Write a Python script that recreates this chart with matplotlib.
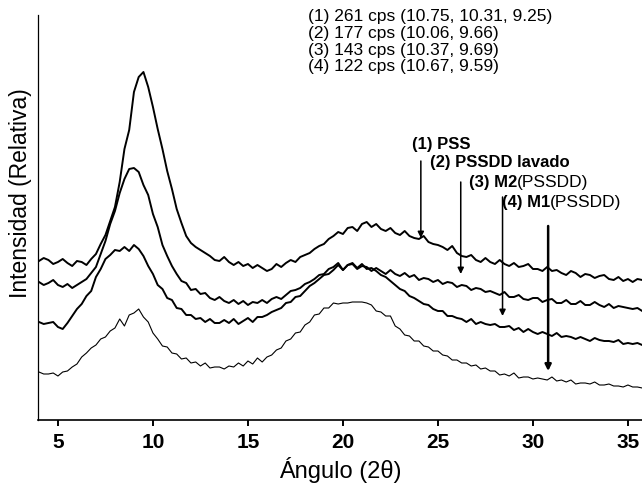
import numpy as np
import matplotlib
matplotlib.use("Agg")
import matplotlib.pyplot as plt

plt.rcParams['font.family'] = ['Liberation Sans', 'DejaVu Sans']

# ---------------- data ----------------
two_theta = np.arange(4.0, 35.76, 0.25)

pss = [159, 162, 160, 156, 158, 161, 157, 154, 159, 158, 155, 161,
       166, 176, 185, 199, 213, 238, 271, 290, 328, 343, 348, 333,
       313, 291, 271, 249, 231, 211, 197, 184, 177, 173, 170, 167,
       164, 160, 159, 163, 158, 155, 158, 154, 156, 152, 155, 152,
       149, 151, 156, 153, 157, 160, 158, 163, 165, 167, 171, 174,
       176, 181, 184, 188, 186, 192, 193, 189, 196, 198, 193, 196,
       191, 189, 192, 187, 185, 189, 184, 182, 181, 184, 178, 176,
       175, 173, 170, 174, 167, 164, 163, 165, 160, 158, 162, 158,
       156, 160, 156, 154, 157, 153, 154, 156, 151, 151, 149, 153,
       149, 150, 147, 145, 149, 147, 143, 146, 145, 142, 144, 145,
       141, 140, 143, 139, 141, 138, 141, 140]

pssdd_lavado = [138, 135, 137, 140, 135, 133, 136, 132, 135, 138, 141, 147,
                153, 166, 179, 196, 209, 227, 241, 251, 252, 248, 235, 225,
                206, 193, 175, 164, 154, 146, 139, 137, 130, 131, 126, 127,
                122, 120, 123, 119, 117, 120, 116, 119, 115, 118, 117, 120,
                117, 121, 123, 121, 125, 129, 130, 132, 136, 138, 141, 145,
                146, 151, 153, 157, 150, 155, 156, 151, 154, 153, 149, 152,
                149, 146, 150, 146, 144, 147, 143, 145, 140, 142, 141, 138,
                140, 136, 138, 137, 133, 135, 134, 130, 132, 131, 128, 129,
                127, 125, 128, 123, 123, 125, 121, 120, 122, 122, 118, 120,
                121, 117, 117, 120, 116, 116, 119, 115, 115, 118, 115, 113,
                116, 112, 114, 113, 112, 111, 112, 109]

m2_pssdd = [98, 96, 97, 98, 93, 91, 97, 104, 111, 116, 124, 129,
            143, 151, 161, 165, 170, 169, 173, 169, 175, 171, 164, 154,
            146, 135, 131, 122, 120, 112, 111, 105, 105, 101, 102, 98,
            101, 97, 97, 100, 97, 101, 96, 99, 102, 98, 103, 103,
            105, 108, 110, 112, 117, 118, 123, 124, 129, 134, 137, 141,
            145, 146, 150, 155, 150, 155, 157, 152, 156, 151, 152, 149,
            145, 143, 139, 135, 131, 129, 124, 122, 119, 116, 115, 111,
            109, 109, 104, 104, 102, 101, 98, 101, 96, 98, 96, 95,
            96, 93, 93, 94, 90, 92, 88, 91, 88, 86, 88, 86,
            84, 87, 83, 84, 83, 81, 83, 81, 79, 82, 80, 79,
            79, 78, 80, 76, 77, 76, 77, 75]

m1_pssdd = [48, 46, 46, 47, 44, 48, 49, 53, 56, 63, 67, 72,
            75, 81, 83, 89, 92, 101, 94, 105, 107, 111, 103, 98,
            87, 81, 74, 73, 67, 66, 61, 62, 57, 58, 54, 57,
            52, 53, 53, 51, 54, 53, 57, 54, 59, 56, 62, 58,
            63, 65, 70, 72, 79, 81, 87, 88, 95, 98, 105, 106,
            112, 112, 117, 116, 117, 117, 118, 118, 118, 117, 115, 109,
            108, 104, 104, 94, 91, 85, 84, 79, 79, 74, 73, 69,
            69, 65, 64, 60, 60, 57, 57, 54, 55, 51, 52, 49,
            49, 45, 46, 44, 47, 42, 43, 43, 41, 42, 41, 40,
            43, 39, 40, 38, 40, 36, 37, 37, 36, 38, 35, 35,
            36, 34, 34, 33, 35, 33, 33, 32]

series = [pss, pssdd_lavado, m2_pssdd, m1_pssdd]
line_widths = [1.4, 1.4, 1.4, 0.8]

info_lines = ["(1) 261 cps (10.75, 10.31, 9.25)",
              "(2) 177 cps (10.06, 9.66)",
              "(3) 143 cps (10.37, 9.69)",
              "(4) 122 cps (10.67, 9.59)"]

arrow_labels_bold = ["(1) PSS", "(2) PSSDD lavado", "(3) M2", "(4) M1"]
arrow_labels_rest = ["", "", "(PSSDD)", "(PSSDD)"]
arrow_x = [24.1, 26.2, 28.4, 30.8]
arrow_top = [259, 238, 223, 194]
arrow_tip = [182, 146, 104, 49]
xticks = [5, 10, 15, 20, 25, 30, 35]

# ---------------- figure ----------------
fig = plt.figure(figsize=(6.42, 4.85), dpi=100)
ax = fig.add_axes([38 / 642, 64 / 485, 604 / 642, 405 / 485])

for ys, lw in zip(series, line_widths):
    ax.plot(two_theta, ys, color='black', lw=lw, solid_joinstyle='round')

ax.set_xlim(3.95, 35.74)
ax.set_ylim(0, 405)
ax.set_xticks(xticks)
ax.set_yticks([])
ax.tick_params(axis='x', direction='out', length=4, width=1.4, pad=5,
               labelsize=15)
for lab in ax.get_xticklabels():
    lab.set_fontweight('bold')

for s in ['top', 'right']:
    ax.spines[s].set_visible(False)
ax.spines['left'].set_linewidth(0.9)
ax.spines['bottom'].set_linewidth(1.2)

fig.text(340 / 642, 1 - 470 / 485, "Ángulo (2θ)", ha='center', va='center', fontsize=17)
fig.text(21 / 642, 1 - 193 / 485, "Intensidad (Relativa)", ha='center', va='center',
         rotation=90, fontsize=16.5)

info_y = [17, 33.5, 50, 66.5]
for txt, yy in zip(info_lines, info_y):
    fig.text(308 / 642, 1 - yy / 485, txt, ha='left', va='center', fontsize=12.5)

label_pos = [(412, 145), (430, 163), (469, 182), (502, 202)]
fig.canvas.draw()
for tb, tr, (px, py) in zip(arrow_labels_bold, arrow_labels_rest, label_pos):
    t = fig.text(px / 642, 1 - py / 485, tb, ha='left', va='center', fontsize=12,
                 fontweight='bold')
    if tr:
        ax.annotate(tr, xy=(1, 0.5), xycoords=t, ha='left', va='center',
                    fontsize=12.5, annotation_clip=False)

arrow_lw = [1.1, 1.1, 1.1, 1.8]
for xa, yt, yb, lw in zip(arrow_x, arrow_top, arrow_tip, arrow_lw):
    ax.annotate("", xy=(xa, yb), xytext=(xa, yt),
                arrowprops=dict(arrowstyle='-|>', lw=lw, color='black',
                                mutation_scale=9, shrinkA=0, shrinkB=0))

fig.savefig("out.png", dpi=100)
